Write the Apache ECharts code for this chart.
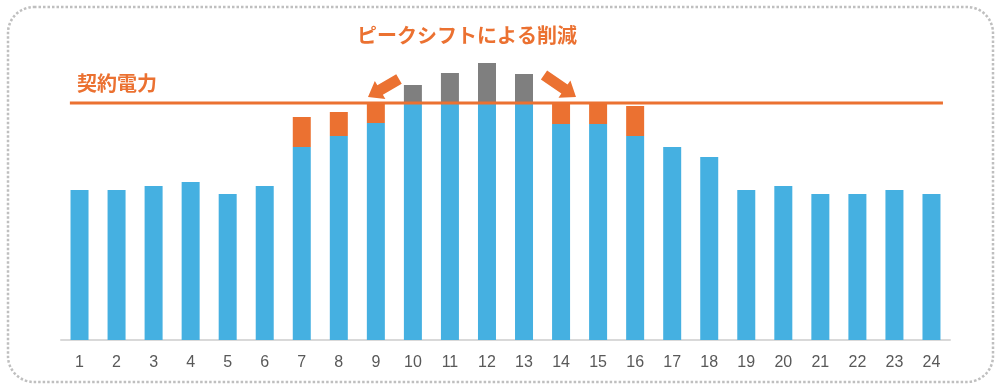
<!DOCTYPE html>
<html><head><meta charset="utf-8">
<script src="https://cdn.jsdelivr.net/npm/echarts@6/dist/echarts.min.js"></script>
<style>html,body{margin:0;padding:0;background:#fff}#c{width:1003px;height:391px}</style>
</head><body><div id="c"></div>
<script>
const hours = ['1','2','3','4','5','6','7','8','9','10','11','12','13','14','15','16','17','18','19','20','21','22','23','24'];
const baseLoad = [150,150,154,158,146,154,193,204,217,236,236,236,236,216,216,204,193,183,150,154,146,146,150,146];
const shiftedIn = [null,null,null,null,null,null,30,24,20,null,null,null,null,20,20,30,null,null,null,null,null,null,null,null];
const cutPeak = [null,null,null,null,null,null,null,null,null,19,31,41,30,null,null,null,null,null,null,null,null,null,null,null];
const contractPower = 237;
const contractLabel = '契約電力';
const peakLabel = 'ピークシフトによる削減';

const BLUE = '#45B0E1', ORANGE = '#EB7131', GRAY = '#7F7F7F';

function arrow(x0, y0, x1, y1, shaftW, headW, headL) {
  const dx = x1 - x0, dy = y1 - y0, len = Math.hypot(dx, dy);
  const ux = dx / len, uy = dy / len, px = -uy, py = ux;
  const bx = x1 - ux * headL, by = y1 - uy * headL;
  const s = shaftW / 2, h = headW / 2;
  return [
    [x0 + px * s, y0 + py * s], [bx + px * s, by + py * s], [bx + px * h, by + py * h],
    [x1, y1],
    [bx - px * h, by - py * h], [bx - px * s, by - py * s], [x0 - px * s, y0 - py * s]
  ];
}

const chart = echarts.init(document.getElementById('c'), null, {renderer: 'canvas'});
chart.setOption({
  animation: false,
  grid: {left: 61, right: 53, top: 40, bottom: 51},
  xAxis: [{
    type: 'category', data: hours,
    axisLine: {lineStyle: {color: '#D9D9D9', width: 2}},
    axisTick: {show: false},
    axisLabel: {color: '#595959', fontSize: 16, fontFamily: 'Liberation Sans, Arial', margin: 15}
  }, {
    type: 'value', min: -0.5, max: 23.5, show: false
  }],
  yAxis: {type: 'value', min: 0, max: 300, show: false},
  series: [
    {type: 'bar', stack: 's', data: baseLoad, barWidth: 18, itemStyle: {color: BLUE}},
    {type: 'bar', stack: 's', data: shiftedIn, barWidth: 18, itemStyle: {color: ORANGE}},
    {type: 'bar', stack: 's', data: cutPeak, barWidth: 18, itemStyle: {color: GRAY}},
    {type: 'line', xAxisIndex: 1, data: [[-0.26, contractPower], [23.31, contractPower]],
     symbol: 'none', lineStyle: {color: ORANGE, width: 3}, z: 5}
  ],
  graphic: [
    {type: 'rect', shape: {x: 8, y: 7, width: 985, height: 375, r: 26},
     style: {fill: null, stroke: '#BFBFBF', lineWidth: 2.5, lineDash: [2.5, 2]}, silent: true},
    {type: 'text', left: 77, top: 73,
     style: {text: contractLabel, fill: ORANGE, font: 'bold 20px "Noto Sans CJK JP"'}},
    {type: 'text', left: 357, top: 25,
     style: {text: peakLabel, fill: ORANGE, font: 'bold 20px "Noto Sans CJK JP"'}},
    {type: 'polygon', shape: {points: arrow(399, 79, 368, 97, 11, 21, 14)}, style: {fill: ORANGE}},
    {type: 'polygon', shape: {points: arrow(544, 75, 576, 97, 11, 21, 14)}, style: {fill: ORANGE}}
  ]
});
</script></body></html>
